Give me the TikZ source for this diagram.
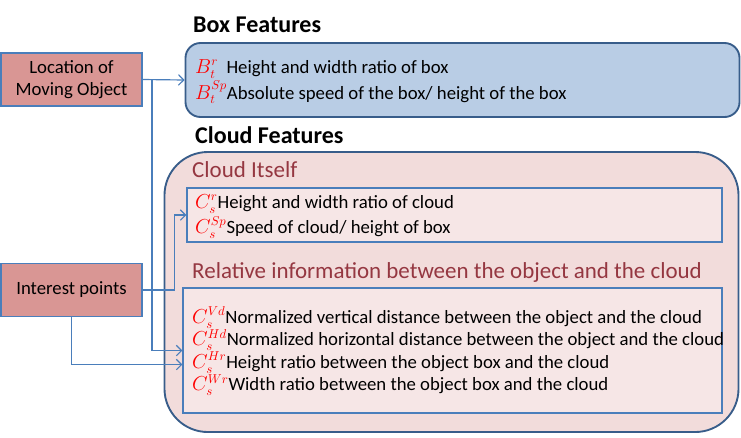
\documentclass[tikz,border=0pt]{standalone}
\usepackage{fontspec}
\setmainfont{Carlito}
\usepackage{amsmath}
\usepackage{xcolor}
\usetikzlibrary{arrows.meta}

\definecolor{srcrose}{HTML}{D99694}
\definecolor{boxblue}{HTML}{B9CDE5}
\definecolor{cloudpink}{HTML}{F2DCDB}
\definecolor{darkedge}{HTML}{385D8A}
\definecolor{lightedge}{HTML}{4A7EBB}
\definecolor{headred}{HTML}{953741}

\newcommand{\sym}[1]{\textcolor{red}{$#1$}}

\begin{document}
\begin{tikzpicture}[x=0.03cm, y=-0.03cm,
    every node/.style={font=\fontsize{16}{18.7}\selectfont, inner sep=0pt},
    srcbox/.style={draw=lightedge, line width=1pt, fill=srcrose, minimum width=4.23cm, minimum height=1.59cm, align=center},
    title/.style={anchor=base west, font=\fontsize{20.5}{24}\selectfont\bfseries},
    subtitle/.style={anchor=base west, text=headred, font=\fontsize{19.6}{23}\selectfont},
    featline/.style={anchor=base west},
    link/.style={draw=lightedge, line width=1pt, -{Straight Barb[length=4.5pt, width=9pt]}}]
    \useasboundingbox (0,0) rectangle (741,437);

    % Box Features
    \node[draw=darkedge, line width=1.6pt, fill=boxblue, rounded corners=0.45cm,
          minimum width=16.62cm, minimum height=2.22cm] (boxfeat) at (462.5,80) {};
    \node[title] (boxtitle) at (193,32) {Box Features};
    \node[featline] (btr) at (195,73) {\sym{B_t^{r}}\ \ Height and width ratio of box};
    \node[featline] (btsp) at (195,99) {\sym{B_t^{Sp}}Absolute speed of the box/ height of the box};

    % Cloud Features
    \node[draw=darkedge, line width=1.6pt, fill=cloudpink, rounded corners=1.3cm,
          minimum width=17.22cm, minimum height=8.4cm] (cloudfeat) at (451.5,292) {};
    \node[title] (cloudtitle) at (195,143) {Cloud Features};

    % Cloud itself
    \node[subtitle] (itselftitle) at (192,177) {Cloud Itself};
    \node[draw=lightedge, line width=1pt, fill=cloudpink!70!white,
          minimum width=16.05cm, minimum height=1.62cm] (itself) at (454.5,215) {};
    \node[featline] (csr) at (195,208) {\sym{C_s^{r}}Height and width ratio of cloud};
    \node[featline] (cssp) at (195,233) {\sym{C_s^{Sp}}Speed of cloud/ height of box};

    % Relative information
    \node[subtitle] (reltitle) at (192,278) {Relative information between the object and the cloud};
    \node[draw=lightedge, line width=1pt, fill=cloudpink!70!white,
          minimum width=16.17cm, minimum height=3.75cm] (relbox) at (452.5,350.5) {};
    \node[featline] (csvd) at (192,323) {\sym{C_s^{Vd}}Normalized vertical distance between the object and the cloud};
    \node[featline] (cshd) at (192,345.5) {\sym{C_s^{Hd}}Normalized horizontal distance between the object and the cloud};
    \node[featline] (cshr) at (192,368) {\sym{C_s^{Hr}}Height ratio between the object box and the cloud};
    \node[featline] (cswr) at (192,390.5) {\sym{C_s^{Wr}}Width ratio between the object box and the cloud};

    % Sources
    \node[srcbox] (location) at (71.5,79.5) {Location of\\Moving Object};
    \node[srcbox] (interest) at (71.5,290) {Interest points};

    % Arrows
    \coordinate (split) at (152,80);
    \draw[link] (location.east) -- (boxfeat.west);
    \draw[link] (split) |- (relbox.west);
    \draw[link] (interest.south) |- ([yshift=-0.42cm]relbox.west);
    \draw[link] (interest.east) -- ++(32,0) |- (itself.west);
\end{tikzpicture}
\end{document}
